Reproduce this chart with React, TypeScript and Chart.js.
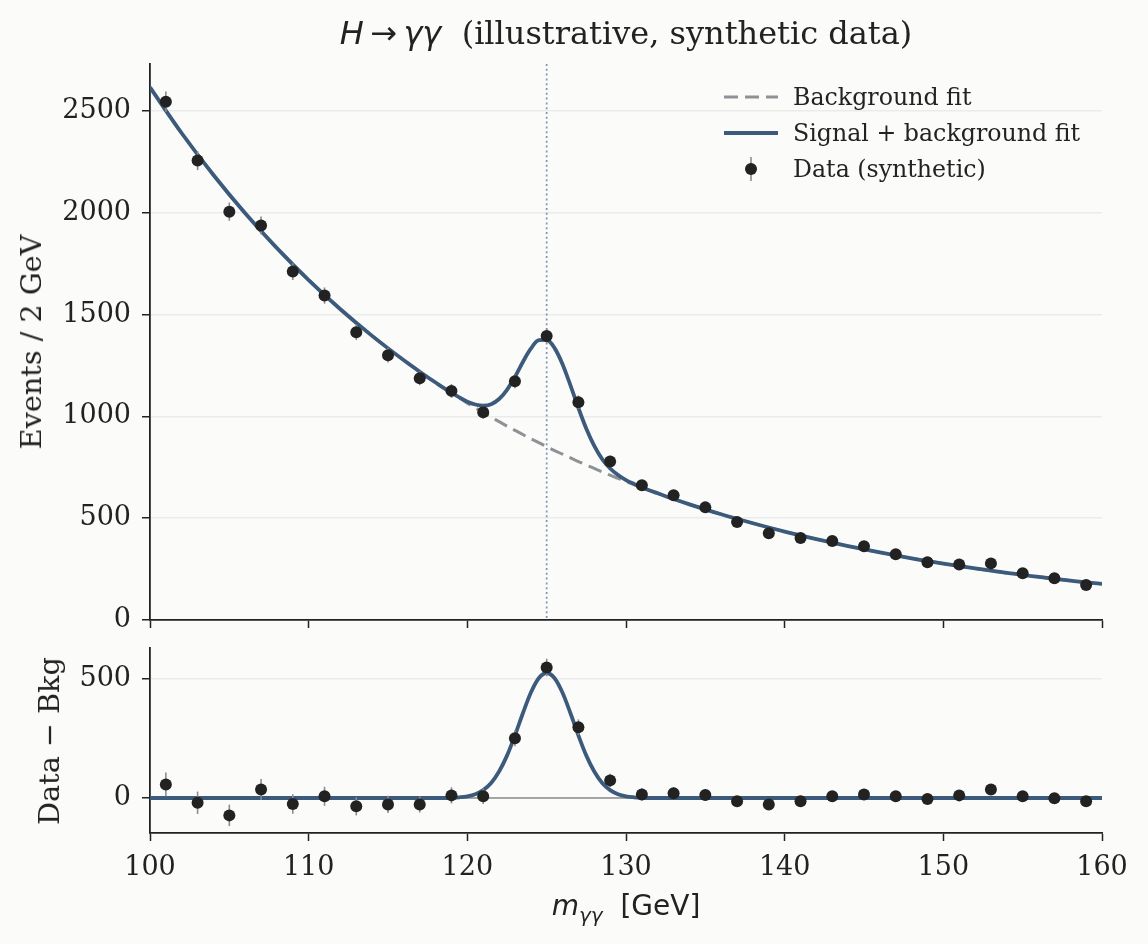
import React, { useEffect, useRef } from "react";
import { Chart, registerables } from "chart.js";

Chart.register(...registerables);

// diphoton mass bins (2 GeV wide, centres)
const massBins = [101, 103, 105, 107, 109, 111, 113, 115, 117, 119, 121, 123, 125, 127, 129, 131, 133, 135, 137, 139, 141, 143, 145, 147, 149, 151, 153, 155, 157, 159];
const eventCounts = [2545, 2256, 2005, 1937, 1711, 1593, 1413, 1300, 1187, 1125, 1020, 1172, 1395, 1069, 778, 662, 612, 553, 481, 426, 403, 388, 362, 323, 283, 273, 278, 229, 205, 172];
const eventErrors = [50, 47, 45, 44, 41, 40, 38, 36, 34, 34, 32, 34, 37, 33, 28, 26, 25, 24, 22, 21, 20, 20, 19, 18, 17, 17, 17, 15, 14, 13];
const residuals = [57, -20, -73, 36, -25, 7, -35, -27, -27, 11, 7, 251, 548, 297, 74, 15, 20, 13, -14, -27, -14, 7, 15, 7, -4, 11, 36, 7, -1, -14];

// fit curves
const fitMass = [100, 102, 104, 106, 108, 110, 112, 114, 116, 117, 117.5, 118, 118.5, 119, 119.5, 120, 120.5, 121, 121.5, 122, 122.5, 123, 123.5, 124, 124.5, 125, 125.5, 126, 126.5, 127, 127.5, 128, 128.5, 129, 129.5, 130, 130.5, 131, 131.5, 132, 132.5, 133, 134, 136, 138, 140, 142, 144, 146, 148, 150, 152, 154, 156, 158, 160];
const bkgFit = [2615, 2390, 2185, 1997, 1826, 1669, 1526, 1395, 1275, 1219, 1192, 1166, 1140, 1114, 1090, 1065, 1042, 1019, 996, 974, 952, 931, 911, 890, 871, 851, 832, 814, 796, 778, 761, 744, 727, 711, 696, 680, 665, 650, 636, 622, 608, 594, 568, 519, 475, 434, 397, 363, 332, 303, 277, 253, 231, 212, 193, 177];
const sigBkgFit = [2615, 2390, 2185, 1997, 1826, 1669, 1526, 1395, 1275, 1219, 1192, 1166, 1140, 1115, 1093, 1072, 1058, 1052, 1059, 1085, 1130, 1194, 1267, 1332, 1374, 1376, 1335, 1256, 1152, 1041, 939, 855, 790, 744, 712, 687, 668, 651, 636, 622, 608, 594, 568, 519, 475, 434, 397, 363, 332, 303, 277, 253, 231, 212, 193, 177];
const sigFit = [0, 0, 0, 0, 0, 0, 0, 0, 0, 0, 0, 0, 0, 1, 3, 7, 16, 33, 63, 111, 178, 263, 356, 442, 503, 525, 503, 442, 356, 263, 178, 111, 63, 33, 16, 7, 3, 1, 0, 0, 0, 0, 0, 0, 0, 0, 0, 0, 0, 0, 0, 0, 0, 0, 0, 0];

const xTicks = [100, 110, 120, 130, 140, 150, 160];
const yTicksTop = [0, 500, 1000, 1500, 2000, 2500];
const yTicksBottom = [0, 500];

const BG = "#fbfbf9";
const INK = "#222222";
const LINE_BLUE = "#3c5a7b";
const BKG_GREY = "#8f9196";
const ERR_GREY = "#8a8d91";
const SERIF = "'DejaVu Serif', serif";
const SANS = "'DejaVu Sans', sans-serif";

const toPoints = (xs: number[], ys: number[]) => xs.map((x, i) => ({ x, y: ys[i] }));

const errorBarPlugin = {
  id: "errorBars",
  beforeDatasetDraw(chart: any, args: any) {
    const ds = chart.data.datasets[args.index];
    if (!ds.errors) return;
    const { ctx } = chart;
    const xs = chart.scales.x;
    const ys = chart.scales.y;
    ctx.save();
    ctx.strokeStyle = ERR_GREY;
    ctx.lineWidth = 1.6;
    ds.data.forEach((p: any, i: number) => {
      const px = xs.getPixelForValue(p.x);
      ctx.beginPath();
      ctx.moveTo(px, ys.getPixelForValue(p.y - ds.errors[i]));
      ctx.lineTo(px, ys.getPixelForValue(p.y + ds.errors[i]));
      ctx.stroke();
    });
    ctx.restore();
  },
};

const refLinePlugin = {
  id: "refLines",
  beforeDatasetsDraw(chart: any, _args: any, opts: any) {
    const { ctx, chartArea } = chart;
    ctx.save();
    ctx.beginPath();
    ctx.rect(chartArea.left, chartArea.top, chartArea.width, chartArea.height);
    ctx.clip();
    if (opts.x != null) {
      const px = chart.scales.x.getPixelForValue(opts.x);
      ctx.strokeStyle = "#7d94b5";
      ctx.lineWidth = 1.7;
      ctx.setLineDash([2, 2.8]);
      ctx.beginPath();
      ctx.moveTo(px, chartArea.top);
      ctx.lineTo(px, chartArea.bottom);
      ctx.stroke();
    }
    if (opts.y != null) {
      const py = chart.scales.y.getPixelForValue(opts.y);
      ctx.strokeStyle = "#8c8c8c";
      ctx.lineWidth = 1.4;
      ctx.setLineDash([]);
      ctx.beginPath();
      ctx.moveTo(chartArea.left, py);
      ctx.lineTo(chartArea.right, py);
      ctx.stroke();
    }
    ctx.restore();
  },
};

const tickFont = { family: SERIF, size: 27 };
const plainTick = (v: any) => String(v);

const xScale = (showLabels: boolean, height: number) => ({
  type: "linear" as const,
  min: 100,
  max: 160,
  afterBuildTicks: (s: any) => {
    s.ticks = xTicks.map((v) => ({ value: v }));
  },
  afterFit: (s: any) => {
    s.height = height;
    s.paddingLeft = 0;
    s.paddingRight = 0;
  },
  grid: { drawOnChartArea: false, drawTicks: true, tickLength: 8, tickColor: INK, tickWidth: 1.5 },
  border: { display: true, color: INK, width: 1.8 },
  ticks: { display: showLabels, color: INK, font: tickFont, padding: 11, maxRotation: 0, callback: plainTick },
});

const yScale = (min: number, max: number, ticks: number[]) => ({
  type: "linear" as const,
  min,
  max,
  afterBuildTicks: (s: any) => {
    s.ticks = ticks.map((v) => ({ value: v }));
  },
  afterFit: (s: any) => {
    s.width = 150;
    s.paddingTop = 0;
    s.paddingBottom = 0;
  },
  grid: { color: "#ebebeb", lineWidth: 1.5, drawTicks: true, tickLength: 8, tickColor: INK, tickWidth: 1.5 },
  border: { display: true, color: INK, width: 1.8 },
  ticks: { color: INK, font: tickFont, padding: 11, callback: plainTick },
});

const App = () => {
  const topRef = useRef<HTMLCanvasElement | null>(null);
  const bottomRef = useRef<HTMLCanvasElement | null>(null);
  const topChart = useRef<Chart | null>(null);
  const bottomChart = useRef<Chart | null>(null);

  useEffect(() => {
    const topCtx = topRef.current?.getContext("2d");
    const bottomCtx = bottomRef.current?.getContext("2d");
    if (!topCtx || !bottomCtx) return;
    if (topChart.current) topChart.current.destroy();
    if (bottomChart.current) bottomChart.current.destroy();

    topChart.current = new Chart(topCtx, {
      type: "scatter",
      data: {
        datasets: [
          {
            label: "Background fit",
            data: toPoints(fitMass, bkgFit),
            showLine: true,
            borderColor: BKG_GREY,
            borderWidth: 3,
            borderDash: [14, 7],
            pointRadius: 0,
            cubicInterpolationMode: "monotone",
            order: 3,
          },
          {
            label: "Signal + background fit",
            data: toPoints(fitMass, sigBkgFit),
            showLine: true,
            borderColor: LINE_BLUE,
            borderWidth: 3.8,
            pointRadius: 0,
            cubicInterpolationMode: "monotone",
            order: 2,
          },
          {
            label: "Data (synthetic)",
            data: toPoints(massBins, eventCounts),
            errors: eventErrors,
            backgroundColor: INK,
            borderWidth: 0,
            pointRadius: 6,
            order: 1,
          } as any,
        ],
      },
      plugins: [errorBarPlugin, refLinePlugin],
      options: {
        responsive: false,
        animation: false,
        layout: { padding: { left: 0, right: 46, top: 64, bottom: 0 } },
        plugins: {
          legend: { display: false },
          tooltip: { enabled: false },
          refLines: { x: 125 },
        } as any,
        scales: {
          x: xScale(false, 20),
          y: yScale(0, 2730, yTicksTop),
        },
      },
    });

    bottomChart.current = new Chart(bottomCtx, {
      type: "scatter",
      data: {
        datasets: [
          {
            label: "Signal fit",
            data: toPoints(fitMass, sigFit),
            showLine: true,
            borderColor: LINE_BLUE,
            borderWidth: 3.8,
            pointRadius: 0,
            cubicInterpolationMode: "monotone",
            order: 2,
          },
          {
            label: "Data - Bkg",
            data: toPoints(massBins, residuals),
            errors: eventErrors,
            backgroundColor: INK,
            borderWidth: 0,
            pointRadius: 6,
            order: 1,
          } as any,
        ],
      },
      plugins: [errorBarPlugin, refLinePlugin],
      options: {
        responsive: false,
        animation: false,
        layout: { padding: { left: 0, right: 46, top: 8, bottom: 0 } },
        plugins: {
          legend: { display: false },
          tooltip: { enabled: false },
          refLines: { y: 0 },
        } as any,
        scales: {
          x: xScale(true, 111),
          y: yScale(-147, 630, yTicksBottom),
        },
      },
    });

    return () => {
      topChart.current?.destroy();
      bottomChart.current?.destroy();
      topChart.current = null;
      bottomChart.current = null;
    };
  }, []);

  const legendRow = (top: number, handle: React.ReactNode, text: string) => (
    <div style={{ position: "absolute", left: 722, top, height: 36, display: "flex", alignItems: "center" }}>
      <svg width={58} height={36} style={{ display: "block" }}>
        {handle}
      </svg>
      <span style={{ marginLeft: 13, fontFamily: SERIF, fontSize: 23.7, color: INK, whiteSpace: "nowrap" }}>{text}</span>
    </div>
  );

  return (
    <div style={{ position: "absolute", left: 0, top: 0, width: 1148, height: 944, background: BG, overflow: "hidden" }}>
      <canvas ref={topRef} width={1148} height={640} style={{ position: "absolute", left: 0, top: 0 }} />
      <canvas ref={bottomRef} width={1148} height={304} style={{ position: "absolute", left: 0, top: 640 }} />

      <div style={{ position: "absolute", left: 150, top: 13, width: 952, textAlign: "center", fontFamily: SERIF, fontSize: 32, lineHeight: "40px", color: INK, whiteSpace: "nowrap" }}>
        <span style={{ fontFamily: SANS, fontStyle: "italic" }}>H</span>
        <span style={{ fontFamily: SANS }}>{"\u2009\u2192\u2009"}</span>
        <span style={{ fontFamily: SANS, fontStyle: "italic" }}>γγ</span>
        {"\u00a0\u00a0(illustrative, synthetic data)"}
      </div>

      <div style={{ position: "absolute", left: 150, top: 887, width: 952, textAlign: "center", fontFamily: SANS, fontSize: 28, lineHeight: "38px", color: INK, whiteSpace: "nowrap" }}>
        <span style={{ fontStyle: "italic" }}>m</span>
        <sub style={{ fontStyle: "italic", fontSize: 20, verticalAlign: "-7px" }}>γγ</sub>
        {"\u00a0\u00a0[GeV]"}
      </div>

      <div style={{ position: "absolute", left: 31, top: 342, transform: "translate(-50%, -50%) rotate(-90deg)", fontFamily: SERIF, fontSize: 28.7, color: INK, whiteSpace: "nowrap" }}>
        Events / 2 GeV
      </div>
      <div style={{ position: "absolute", left: 49, top: 741, transform: "translate(-50%, -50%) rotate(-90deg)", fontFamily: SERIF, fontSize: 28.7, color: INK, whiteSpace: "nowrap" }}>
        {"Data \u2212 Bkg"}
      </div>

      {legendRow(
        79,
        <line x1={2} y1={18} x2={56} y2={18} stroke={BKG_GREY} strokeWidth={3.2} strokeDasharray="14 7" />,
        "Background fit"
      )}
      {legendRow(
        115,
        <line x1={2} y1={18} x2={56} y2={18} stroke={LINE_BLUE} strokeWidth={3.8} />,
        "Signal + background fit"
      )}
      {legendRow(
        151,
        <g>
          <line x1={29} y1={6} x2={29} y2={30} stroke={ERR_GREY} strokeWidth={1.6} />
          <circle cx={29} cy={18} r={6} fill={INK} />
        </g>,
        "Data (synthetic)"
      )}
    </div>
  );
};

export default App;
